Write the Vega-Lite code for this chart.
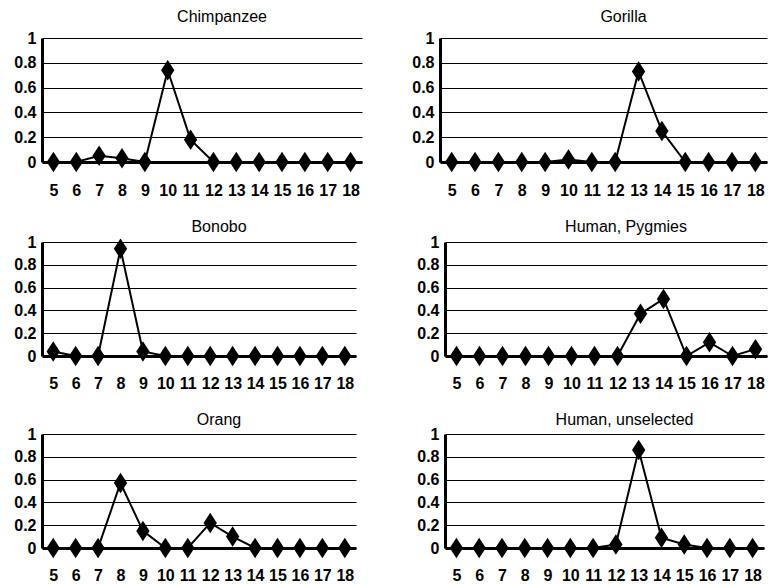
{
  "$schema": "https://vega.github.io/schema/vega-lite/v6.json",
  "padding": {"left": 13, "top": 9, "right": 5, "bottom": 0},
  "background": "white",
  "config": {
    "font": "Liberation Sans",
    "view": {"stroke": null},
    "title": {"fontSize": 16, "fontWeight": "normal", "color": "black", "dx": 20, "font": "Liberation Sans"},
    "concat": {"spacing": 21}
  },
  "datasets": {
    "d": [
      {"s":"Chimpanzee","a":5,"p":0},{"s":"Chimpanzee","a":6,"p":0},{"s":"Chimpanzee","a":7,"p":0.05},{"s":"Chimpanzee","a":8,"p":0.03},{"s":"Chimpanzee","a":9,"p":0},{"s":"Chimpanzee","a":10,"p":0.74},{"s":"Chimpanzee","a":11,"p":0.18},{"s":"Chimpanzee","a":12,"p":0},{"s":"Chimpanzee","a":13,"p":0},{"s":"Chimpanzee","a":14,"p":0},{"s":"Chimpanzee","a":15,"p":0},{"s":"Chimpanzee","a":16,"p":0},{"s":"Chimpanzee","a":17,"p":0},{"s":"Chimpanzee","a":18,"p":0},
      {"s":"Gorilla","a":5,"p":0},{"s":"Gorilla","a":6,"p":0},{"s":"Gorilla","a":7,"p":0},{"s":"Gorilla","a":8,"p":0},{"s":"Gorilla","a":9,"p":0},{"s":"Gorilla","a":10,"p":0.02},{"s":"Gorilla","a":11,"p":0},{"s":"Gorilla","a":12,"p":0},{"s":"Gorilla","a":13,"p":0.73},{"s":"Gorilla","a":14,"p":0.25},{"s":"Gorilla","a":15,"p":0},{"s":"Gorilla","a":16,"p":0},{"s":"Gorilla","a":17,"p":0},{"s":"Gorilla","a":18,"p":0},
      {"s":"Bonobo","a":5,"p":0.04},{"s":"Bonobo","a":6,"p":0},{"s":"Bonobo","a":7,"p":0},{"s":"Bonobo","a":8,"p":0.94},{"s":"Bonobo","a":9,"p":0.04},{"s":"Bonobo","a":10,"p":0},{"s":"Bonobo","a":11,"p":0},{"s":"Bonobo","a":12,"p":0},{"s":"Bonobo","a":13,"p":0},{"s":"Bonobo","a":14,"p":0},{"s":"Bonobo","a":15,"p":0},{"s":"Bonobo","a":16,"p":0},{"s":"Bonobo","a":17,"p":0},{"s":"Bonobo","a":18,"p":0},
      {"s":"Human, Pygmies","a":5,"p":0},{"s":"Human, Pygmies","a":6,"p":0},{"s":"Human, Pygmies","a":7,"p":0},{"s":"Human, Pygmies","a":8,"p":0},{"s":"Human, Pygmies","a":9,"p":0},{"s":"Human, Pygmies","a":10,"p":0},{"s":"Human, Pygmies","a":11,"p":0},{"s":"Human, Pygmies","a":12,"p":0},{"s":"Human, Pygmies","a":13,"p":0.37},{"s":"Human, Pygmies","a":14,"p":0.5},{"s":"Human, Pygmies","a":15,"p":0},{"s":"Human, Pygmies","a":16,"p":0.12},{"s":"Human, Pygmies","a":17,"p":0},{"s":"Human, Pygmies","a":18,"p":0.06},
      {"s":"Orang","a":5,"p":0},{"s":"Orang","a":6,"p":0},{"s":"Orang","a":7,"p":0},{"s":"Orang","a":8,"p":0.57},{"s":"Orang","a":9,"p":0.15},{"s":"Orang","a":10,"p":0},{"s":"Orang","a":11,"p":0},{"s":"Orang","a":12,"p":0.22},{"s":"Orang","a":13,"p":0.1},{"s":"Orang","a":14,"p":0},{"s":"Orang","a":15,"p":0},{"s":"Orang","a":16,"p":0},{"s":"Orang","a":17,"p":0},{"s":"Orang","a":18,"p":0},
      {"s":"Human, unselected","a":5,"p":0},{"s":"Human, unselected","a":6,"p":0},{"s":"Human, unselected","a":7,"p":0},{"s":"Human, unselected","a":8,"p":0},{"s":"Human, unselected","a":9,"p":0},{"s":"Human, unselected","a":10,"p":0},{"s":"Human, unselected","a":11,"p":0},{"s":"Human, unselected","a":12,"p":0.03},{"s":"Human, unselected","a":13,"p":0.86},{"s":"Human, unselected","a":14,"p":0.09},{"s":"Human, unselected","a":15,"p":0.03},{"s":"Human, unselected","a":16,"p":0},{"s":"Human, unselected","a":17,"p":0},{"s":"Human, unselected","a":18,"p":0}
    ]
  },
  "data": {"name": "d"},
  "vconcat": [
    {
      "spacing": 49,
      "hconcat": [
        {
          "width": 320, "height": 124,
          "title": {"text": "Chimpanzee", "offset": 5},
          "transform": [{"filter": "datum.s == 'Chimpanzee'"}],
          "mark": {"type": "line", "color": "black", "strokeWidth": 2, "point": {"shape": "M0,-1L0.65,0L0,1L-0.65,0Z", "size": 420, "filled": true, "color": "black", "opacity": 1}},
          "encoding": {
            "x": {"field": "a", "type": "ordinal", "axis": {"title": null, "labelAngle": 0, "ticks": false, "grid": false, "domainWidth": 3, "domainColor": "black", "labelFontSize": 16, "labelFontWeight": "bold", "labelPadding": 20, "labelColor": "black", "labelOverlap": false}},
            "y": {"field": "p", "type": "quantitative", "scale": {"domain": [0, 1], "nice": false}, "axis": {"title": null, "ticks": false, "grid": true, "gridColor": "black", "gridOpacity": 1, "gridWidth": 1, "domainWidth": 3, "domainColor": "black", "labelFontSize": 16, "labelFontWeight": "bold", "labelPadding": 6, "labelColor": "black", "values": [0, 0.2, 0.4, 0.6, 0.8, 1], "format": "~g"}}
          }
        },
        {
          "width": 327, "height": 124,
          "title": {"text": "Gorilla", "offset": 5},
          "transform": [{"filter": "datum.s == 'Gorilla'"}],
          "mark": {"type": "line", "color": "black", "strokeWidth": 2, "point": {"shape": "M0,-1L0.65,0L0,1L-0.65,0Z", "size": 420, "filled": true, "color": "black", "opacity": 1}},
          "encoding": {
            "x": {"field": "a", "type": "ordinal", "axis": {"title": null, "labelAngle": 0, "ticks": false, "grid": false, "domainWidth": 3, "domainColor": "black", "labelFontSize": 16, "labelFontWeight": "bold", "labelPadding": 20, "labelColor": "black", "labelOverlap": false}},
            "y": {"field": "p", "type": "quantitative", "scale": {"domain": [0, 1], "nice": false}, "axis": {"title": null, "ticks": false, "grid": true, "gridColor": "black", "gridOpacity": 1, "gridWidth": 1, "domainWidth": 3, "domainColor": "black", "labelFontSize": 16, "labelFontWeight": "bold", "labelPadding": 6, "labelColor": "black", "values": [0, 0.2, 0.4, 0.6, 0.8, 1], "format": "~g"}}
          }
        }
      ]
    },
    {
      "spacing": 60,
      "hconcat": [
        {
          "width": 314, "height": 114,
          "title": {"text": "Bonobo", "offset": -1},
          "transform": [{"filter": "datum.s == 'Bonobo'"}],
          "mark": {"type": "line", "color": "black", "strokeWidth": 2, "point": {"shape": "M0,-1L0.65,0L0,1L-0.65,0Z", "size": 420, "filled": true, "color": "black", "opacity": 1}},
          "encoding": {
            "x": {"field": "a", "type": "ordinal", "axis": {"title": null, "labelAngle": 0, "ticks": false, "grid": false, "domainWidth": 3, "domainColor": "black", "labelFontSize": 16, "labelFontWeight": "bold", "labelPadding": 19, "labelColor": "black", "labelOverlap": false}},
            "y": {"field": "p", "type": "quantitative", "scale": {"domain": [0, 1], "nice": false}, "axis": {"title": null, "ticks": false, "grid": true, "gridColor": "black", "gridOpacity": 1, "gridWidth": 1, "domainWidth": 3, "domainColor": "black", "labelFontSize": 16, "labelFontWeight": "bold", "labelPadding": 6, "labelColor": "black", "values": [0, 0.2, 0.4, 0.6, 0.8, 1], "format": "~g"}}
          }
        },
        {
          "width": 322, "height": 114,
          "title": {"text": "Human, Pygmies", "offset": -1},
          "transform": [{"filter": "datum.s == 'Human, Pygmies'"}],
          "mark": {"type": "line", "color": "black", "strokeWidth": 2, "point": {"shape": "M0,-1L0.65,0L0,1L-0.65,0Z", "size": 420, "filled": true, "color": "black", "opacity": 1}},
          "encoding": {
            "x": {"field": "a", "type": "ordinal", "axis": {"title": null, "labelAngle": 0, "ticks": false, "grid": false, "domainWidth": 3, "domainColor": "black", "labelFontSize": 16, "labelFontWeight": "bold", "labelPadding": 19, "labelColor": "black", "labelOverlap": false}},
            "y": {"field": "p", "type": "quantitative", "scale": {"domain": [0, 1], "nice": false}, "axis": {"title": null, "ticks": false, "grid": true, "gridColor": "black", "gridOpacity": 1, "gridWidth": 1, "domainWidth": 3, "domainColor": "black", "labelFontSize": 16, "labelFontWeight": "bold", "labelPadding": 6, "labelColor": "black", "values": [0, 0.2, 0.4, 0.6, 0.8, 1], "format": "~g"}}
          }
        }
      ]
    },
    {
      "spacing": 60,
      "hconcat": [
        {
          "width": 314, "height": 114,
          "title": {"text": "Orang", "offset": -2},
          "transform": [{"filter": "datum.s == 'Orang'"}],
          "mark": {"type": "line", "color": "black", "strokeWidth": 2, "point": {"shape": "M0,-1L0.65,0L0,1L-0.65,0Z", "size": 420, "filled": true, "color": "black", "opacity": 1}},
          "encoding": {
            "x": {"field": "a", "type": "ordinal", "axis": {"title": null, "labelAngle": 0, "ticks": false, "grid": false, "domainWidth": 3, "domainColor": "black", "labelFontSize": 16, "labelFontWeight": "bold", "labelPadding": 19, "labelColor": "black", "labelOverlap": false}},
            "y": {"field": "p", "type": "quantitative", "scale": {"domain": [0, 1], "nice": false}, "axis": {"title": null, "ticks": false, "grid": true, "gridColor": "black", "gridOpacity": 1, "gridWidth": 1, "domainWidth": 3, "domainColor": "black", "labelFontSize": 16, "labelFontWeight": "bold", "labelPadding": 6, "labelColor": "black", "values": [0, 0.2, 0.4, 0.6, 0.8, 1], "format": "~g"}}
          }
        },
        {
          "width": 319, "height": 114,
          "title": {"text": "Human, unselected", "offset": -2},
          "transform": [{"filter": "datum.s == 'Human, unselected'"}],
          "mark": {"type": "line", "color": "black", "strokeWidth": 2, "point": {"shape": "M0,-1L0.65,0L0,1L-0.65,0Z", "size": 420, "filled": true, "color": "black", "opacity": 1}},
          "encoding": {
            "x": {"field": "a", "type": "ordinal", "axis": {"title": null, "labelAngle": 0, "ticks": false, "grid": false, "domainWidth": 3, "domainColor": "black", "labelFontSize": 16, "labelFontWeight": "bold", "labelPadding": 19, "labelColor": "black", "labelOverlap": false}},
            "y": {"field": "p", "type": "quantitative", "scale": {"domain": [0, 1], "nice": false}, "axis": {"title": null, "ticks": false, "grid": true, "gridColor": "black", "gridOpacity": 1, "gridWidth": 1, "domainWidth": 3, "domainColor": "black", "labelFontSize": 16, "labelFontWeight": "bold", "labelPadding": 6, "labelColor": "black", "values": [0, 0.2, 0.4, 0.6, 0.8, 1], "format": "~g"}}
          }
        }
      ]
    }
  ]
}
